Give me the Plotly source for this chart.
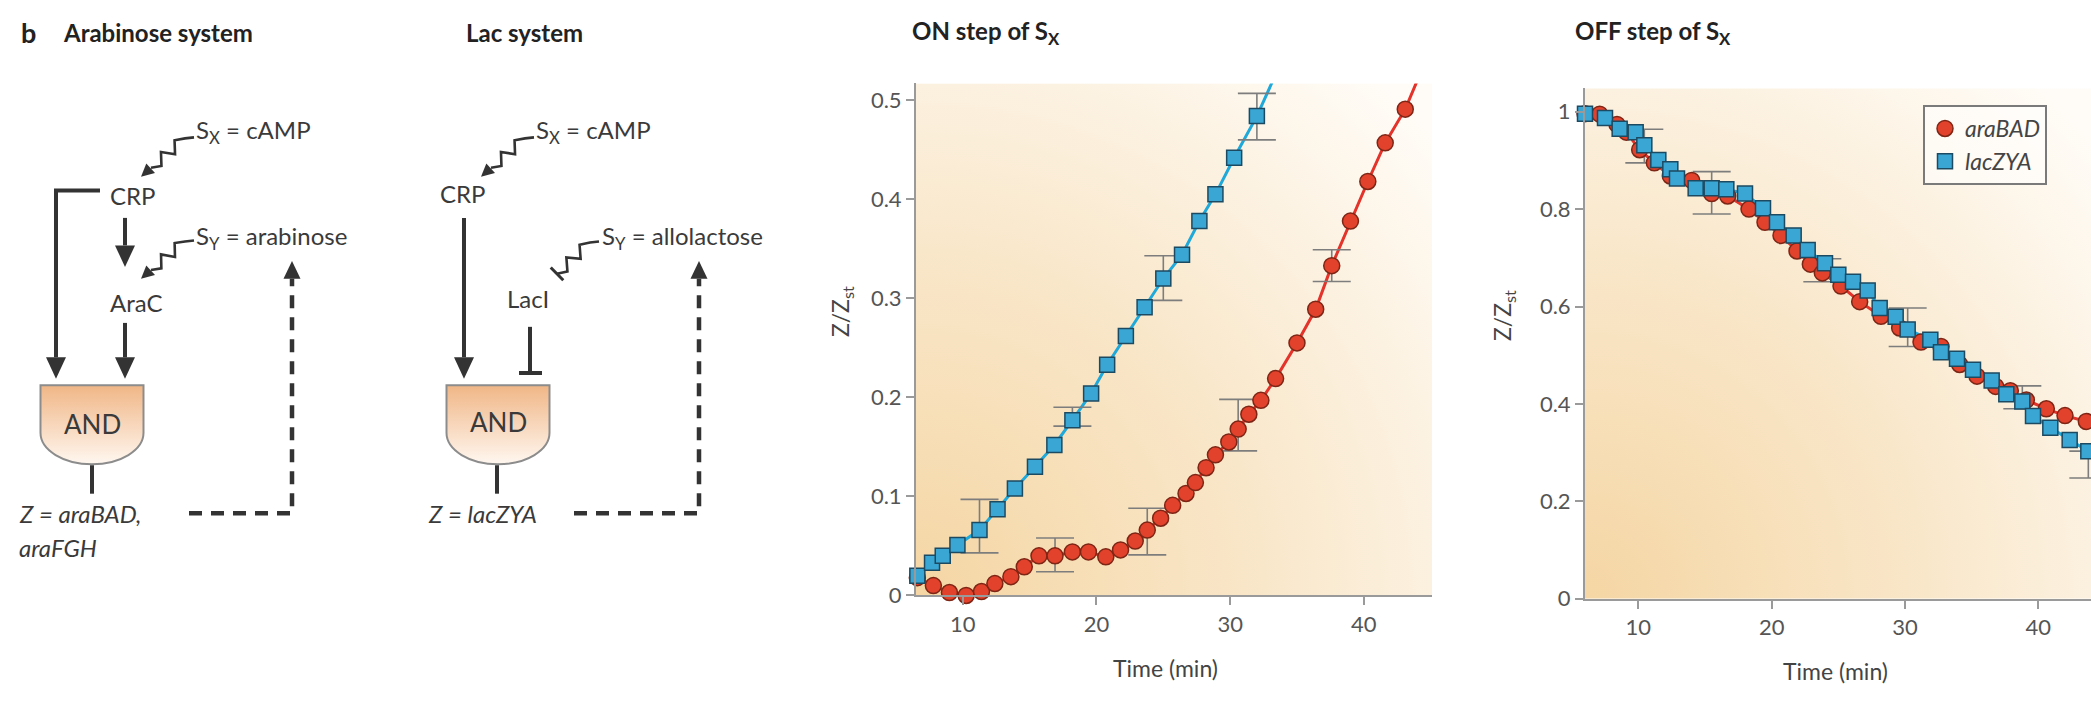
import base64
import plotly.graph_objects as go

W, H = 2091, 703

# ---------------- data ----------------
# ON step of S_X
on_ara_t = [6.6, 7.8, 9.0, 10.25, 11.4, 12.4, 13.6, 14.6, 15.7, 16.9, 18.2, 19.4, 20.7, 21.8, 22.9, 23.8,
            24.8, 25.7, 26.7, 27.4, 28.2, 28.9, 29.9, 30.6, 31.4, 32.3, 33.4, 35.0, 36.4, 37.6, 39.0, 40.3, 41.6, 43.1]
on_ara_v = [0.018, 0.010, 0.003, 0.0, 0.004, 0.012, 0.019, 0.029, 0.040, 0.040, 0.044, 0.044, 0.039, 0.046, 0.055, 0.066,
            0.078, 0.091, 0.103, 0.114, 0.129, 0.142, 0.155, 0.168, 0.183, 0.197, 0.219, 0.255, 0.289, 0.333, 0.378, 0.418, 0.457, 0.491]
on_ara_fit_end_t = [44.0]
on_ara_fit_end_v = [0.52]

on_lac_t = [6.6, 7.7, 8.5, 9.6, 11.25, 12.6, 13.9, 15.4, 16.85, 18.2, 19.6, 20.8, 22.2, 23.6, 25.0, 26.4, 27.7, 28.9, 30.3, 32.0]
on_lac_v = [0.020, 0.033, 0.040, 0.051, 0.066, 0.087, 0.108, 0.130, 0.152, 0.177, 0.204, 0.233, 0.262, 0.291, 0.320,
            0.344, 0.378, 0.405, 0.442, 0.484]
on_lac_fit_end_t = [33.2]
on_lac_fit_end_v = [0.52]

on_ara_err_t = [16.9, 23.8, 30.6, 37.6]
on_ara_err_v = [0.040, 0.066, 0.168, 0.333]
on_ara_err_up = [0.018, 0.022, 0.030, 0.016]
on_ara_err_dn = [0.016, 0.025, 0.022, 0.016]

on_lac_err_t = [11.25, 18.2, 25.0, 32.0]
on_lac_err_v = [0.066, 0.177, 0.320, 0.484]
on_lac_err_up = [0.031, 0.013, 0.023, 0.023]
on_lac_err_dn = [0.023, 0.006, 0.022, 0.024]

# OFF step of S_X
off_ara_t = [6.0, 7.1, 8.4, 9.1, 10.1, 11.2, 12.4, 14.0, 15.5, 16.7, 18.3, 19.5, 20.7, 21.9, 22.9, 23.8, 25.2, 26.6,
             28.2, 29.6, 31.2, 32.7, 34.1, 35.4, 36.8, 37.9, 39.1, 40.6, 42.0, 43.6]
off_ara_v = [0.996, 0.995, 0.974, 0.958, 0.922, 0.895, 0.868, 0.859, 0.832, 0.827, 0.800, 0.773, 0.746, 0.714, 0.687,
             0.669, 0.642, 0.610, 0.580, 0.556, 0.527, 0.518, 0.481, 0.457, 0.436, 0.427, 0.408, 0.390, 0.376, 0.364]

off_lac_t = [6.0, 7.5, 8.6, 9.8, 10.45, 11.5, 12.4, 12.9, 14.3, 15.5, 16.6, 18.0, 19.35, 20.4, 21.65, 22.7, 24.0, 25.0,
             26.1, 27.2, 28.1, 29.3, 30.2, 31.9, 32.7, 33.9, 35.1, 36.5, 37.6, 38.8, 39.6, 40.9, 42.35, 43.75]
off_lac_v = [0.996, 0.987, 0.965, 0.958, 0.931, 0.901, 0.882, 0.863, 0.843, 0.843, 0.841, 0.832, 0.802, 0.773, 0.746,
             0.716, 0.689, 0.665, 0.651, 0.633, 0.597, 0.579, 0.553, 0.532, 0.506, 0.493, 0.470, 0.448, 0.420, 0.405,
             0.375, 0.351, 0.326, 0.303]

off_ara_err_t = [15.5, 23.8]
off_ara_err_v = [0.832, 0.669]
off_ara_err_up = [0.045, 0.029]
off_ara_err_dn = [0.042, 0.018]

off_lac_err_t = [10.45, 30.2, 38.8, 43.75]
off_lac_err_v = [0.931, 0.553, 0.405, 0.303]
off_lac_err_up = [0.033, 0.044, 0.032, 0.0]
off_lac_err_dn = [0.036, 0.035, 0.015, 0.055]

on_yticks = [0, 0.1, 0.2, 0.3, 0.4, 0.5]
off_yticks = [0, 0.2, 0.4, 0.6, 0.8, 1]
xticks = [10, 20, 30, 40]

series_names = ["<i>araBAD</i>", "<i>lacZYA</i>"]

# ---------------- style ----------------
FONT = "Lato, Open Sans, sans-serif"
RED = "#E2412B"
RED_EDGE = "#7E2616"
RED_LINE = "#E3332A"
BLUE = "#3AA6D4"
BLUE_EDGE = "#1C4A62"
BLUE_LINE = "#1FA8DA"
ERR = "#7d7d7d"
DARK = "#333333"


def px(x):
    return x / W


def py(y):
    return 1 - y / H


fig = go.Figure()


def add_panel(xa, ya, ara_t, ara_v, lac_t, lac_v, ara_line, lac_line, errs, legend):
    (alt, alv), (llt, llv) = ara_line, lac_line
    fig.add_trace(go.Scatter(x=lac_t + llt, y=lac_v + llv, mode="lines", line=dict(color=BLUE_LINE, width=3),
                             showlegend=False, hoverinfo="skip", xaxis=xa, yaxis=ya))
    fig.add_trace(go.Scatter(x=ara_t + alt, y=ara_v + alv, mode="lines", line=dict(color=RED_LINE, width=3),
                             showlegend=False, hoverinfo="skip", xaxis=xa, yaxis=ya))
    for et, ev, eu, ed in errs:
        fig.add_trace(go.Scatter(x=et, y=ev, mode="markers", marker=dict(size=1, opacity=0),
                                 error_y=dict(type="data", symmetric=False, array=eu, arrayminus=ed,
                                              color=ERR, thickness=1.6, width=19),
                                 showlegend=False, hoverinfo="skip", cliponaxis=False, xaxis=xa, yaxis=ya))
    fig.add_trace(go.Scatter(x=ara_t, y=ara_v, mode="markers", name=series_names[0],
                             marker=dict(symbol="circle", size=16, color=RED, line=dict(color=RED_EDGE, width=1.5)),
                             showlegend=legend, cliponaxis=False, xaxis=xa, yaxis=ya))
    fig.add_trace(go.Scatter(x=lac_t, y=lac_v, mode="markers", name=series_names[1],
                             marker=dict(symbol="square", size=15, color=BLUE, line=dict(color=BLUE_EDGE, width=1.5)),
                             showlegend=legend, cliponaxis=False, xaxis=xa, yaxis=ya))


add_panel("x", "y", on_ara_t, on_ara_v, on_lac_t, on_lac_v,
          (on_ara_fit_end_t, on_ara_fit_end_v), (on_lac_fit_end_t, on_lac_fit_end_v),
          [(on_ara_err_t, on_ara_err_v, on_ara_err_up, on_ara_err_dn),
           (on_lac_err_t, on_lac_err_v, on_lac_err_up, on_lac_err_dn)], False)
add_panel("x2", "y2", off_ara_t, off_ara_v, off_lac_t, off_lac_v,
          ([], []), ([], []),
          [(off_ara_err_t, off_ara_err_v, off_ara_err_up, off_ara_err_dn),
           (off_lac_err_t, off_lac_err_v, off_lac_err_up, off_lac_err_dn)], True)

axis_common = dict(showgrid=False, zeroline=False, showline=True, linecolor="#9a9a9a", linewidth=2,
                   ticks="outside", ticklen=8, tickwidth=1.5, tickcolor="#9a9a9a",
                   tickfont=dict(family=FONT, size=22, color="#555555"))

# ---------------- background gradient & AND gates (SVG images) ----------------
def svg_uri(svg):
    return "data:image/svg+xml;base64," + base64.b64encode(svg.encode()).decode()


bg_svg = ("<svg xmlns='http://www.w3.org/2000/svg' width='100' height='100' viewBox='0 0 100 100' "
          "preserveAspectRatio='none'><defs><radialGradient id='r' cx='0' cy='1' r='1.35'>"
          "<stop offset='0' stop-color='#F5D6A4'/><stop offset='0.5' stop-color='#F9E7CA'/>"
          "<stop offset='1' stop-color='#FFFCF7'/></radialGradient></defs>"
          "<rect width='100' height='100' fill='url(#r)'/></svg>")
and_svg = ("<svg xmlns='http://www.w3.org/2000/svg' width='106' height='84' viewBox='0 0 106 84' "
           "preserveAspectRatio='none'><defs><linearGradient id='g' x1='0' y1='0' x2='0' y2='1'>"
           "<stop offset='0' stop-color='#F0B686'/><stop offset='1' stop-color='#FFF7F0'/></linearGradient></defs>"
           "<path d='M1.5,1.5 H104.5 V50 A51.5,32 0 0 1 1.5,50 Z' fill='url(#g)' stroke='#8c8c8c' stroke-width='2'/>"
           "</svg>")

images = [
    dict(source=svg_uri(bg_svg), xref="paper", yref="paper", x=px(916), y=py(85), sizex=(1432 - 916) / W,
         sizey=(606.7 - 85) / H, xanchor="left", yanchor="top", sizing="stretch", layer="below"),
    dict(source=svg_uri(bg_svg), xref="paper", yref="paper", x=px(1585), y=py(90), sizex=(W - 1585) / W,
         sizey=(610 - 90) / H, xanchor="left", yanchor="top", sizing="stretch", layer="below"),
    dict(source=svg_uri(and_svg), xref="paper", yref="paper", x=px(39), y=py(391), sizex=106 / W, sizey=84 / H,
         xanchor="left", yanchor="top", sizing="stretch", layer="above"),
    dict(source=svg_uri(and_svg), xref="paper", yref="paper", x=px(445), y=py(391), sizex=106 / W, sizey=84 / H,
         xanchor="left", yanchor="top", sizing="stretch", layer="above"),
]

# ---------------- diagram shapes ----------------
shapes = []
annotations = []


def path_of(points, close=False):
    p = "M " + " L ".join(f"{px(x):.5f},{py(y):.5f}" for x, y in points)
    return p + (" Z" if close else "")


def line(points, width=4, dash=None, color=DARK):
    ln = dict(color=color, width=width)
    if dash:
        ln["dash"] = dash
    shapes.append(dict(type="path", xref="paper", yref="paper", path=path_of(points), line=ln))


def head(tip, frm, length=22, half=10):
    dx, dy = tip[0] - frm[0], tip[1] - frm[1]
    L = (dx * dx + dy * dy) ** 0.5
    ux, uy = dx / L, dy / L
    bx, by = tip[0] - ux * length, tip[1] - uy * length
    pts = [tip, (bx - uy * half, by + ux * half), (bx + uy * half, by - ux * half)]
    shapes.append(dict(type="path", xref="paper", yref="paper", path=path_of(pts, close=True),
                       fillcolor=DARK, line=dict(width=0)))
    return bx, by


def arrow(tip, tail, width=4, length=22, half=10):
    bx, by = head(tip, tail, length, half)
    line([tail, (bx, by)], width=width)


def squiggle(start, end, n=5, amp=5.5):
    (x0, y0), (x1, y1) = start, end
    dx, dy = x1 - x0, y1 - y0
    L = (dx * dx + dy * dy) ** 0.5
    nx, ny = -dy / L, dx / L
    pts = [(x0 + 9, y0 - 1), (x0, y0)]
    for i in range(1, n):
        f = i / n
        s = amp if i % 2 else -amp
        pts.append((x0 + dx * f + nx * s, y0 + dy * f + ny * s))
    pts.append((x1, y1))
    line(pts, width=2.6)
    return dx / L, dy / L


# Arabinose system
line([(100, 194), (56, 194), (56, 300)])
arrow((56, 386), (56, 290))
arrow((125, 272), (125, 222))
arrow((125, 386), (125, 329))
squiggle((185, 141), (151, 171))
head((141, 180), (151, 171), length=13, half=6.5)
squiggle((185, 246), (151, 275))
head((141, 284), (151, 275), length=13, half=6.5)
line([(92, 474), (92, 503)])
line([(189, 523), (292, 523), (292, 284)], width=4.5, dash="13px,9px")
head((292, 266), (292, 290), length=18, half=8.5)

# Lac system
arrow((464, 386), (464, 222))
squiggle((525, 141), (491, 171))
head((481, 180), (491, 171), length=13, half=6.5)
ux, uy = squiggle((590, 247), (557, 279))
line([(557 - uy * 9, 279 + ux * 9), (557 + uy * 9, 279 - ux * 9)], width=3)
line([(530, 333), (530, 380)])
line([(519, 380), (542, 380)], width=4)
line([(497, 474), (497, 503)])
line([(574, 523), (699, 523), (699, 284)], width=4.5, dash="13px,9px")
head((699, 266), (699, 290), length=18, half=8.5)


def txt(x, y, text, size=24, bold=False, anchor="left", color="#3a3a3a", angle=0):
    t = f"<b>{text}</b>" if bold else text
    annotations.append(dict(xref="paper", yref="paper", x=px(x), y=py(y), text=t, showarrow=False,
                            xanchor=anchor, yanchor="middle", textangle=angle,
                            font=dict(family=FONT, size=size, color=color)))


txt(19, 33, "b", size=27, bold=True, color="#222")
txt(61, 33, "Arabinose system", size=24, bold=True, color="#222")
txt(464, 33, "Lac system", size=24, bold=True, color="#222")
txt(910, 33, "ON step of S<sub>X</sub>", size=24, bold=True, color="#222")
txt(1573, 33, "OFF step of S<sub>X</sub>", size=24, bold=True, color="#222")

txt(194, 134, "S<sub>X</sub> = cAMP")
txt(108, 199, "CRP")
txt(194, 242, "S<sub>Y</sub> = arabinose")
txt(108, 308, "AraC")
txt(92, 432, "AND", size=26, anchor="center")
txt(17, 523, "<i>Z = araBAD,</i>")
txt(17, 558, "<i>araFGH</i>")

txt(534, 134, "S<sub>X</sub> = cAMP")
txt(438, 197, "CRP")
txt(600, 242, "S<sub>Y</sub> = allolactose")
txt(505, 304, "LacI")
txt(498, 430, "AND", size=26, anchor="center")
txt(426, 523, "<i>Z = lacZYA</i>")

# axis titles
txt(841, 318, "Z/Z<sub>st</sub>", size=23, anchor="center", color="#444", angle=-90)
txt(1503, 322, "Z/Z<sub>st</sub>", size=23, anchor="center", color="#444", angle=-90)
txt(1165, 681, "Time (min)", size=23, anchor="center", color="#444")
txt(1835, 684, "Time (min)", size=23, anchor="center", color="#444")

fig.update_layout(
    width=W, height=H, margin=dict(l=0, r=0, t=0, b=0),
    paper_bgcolor="white", plot_bgcolor="rgba(0,0,0,0)",
    font=dict(family=FONT, color="#333"),
    xaxis=dict(domain=[px(916), px(1432)], range=[6.5, 45.1], tickvals=xticks, anchor="y", **axis_common),
    yaxis=dict(domain=[py(606.7), py(85)], range=[0, 0.517], tickvals=on_yticks, anchor="x", **axis_common),
    xaxis2=dict(domain=[px(1585), 1.0], range=[6.0, 43.95], tickvals=xticks, anchor="y2", **axis_common),
    yaxis2=dict(domain=[py(610), py(90)], range=[0, 1.048], tickvals=off_yticks, anchor="x2", **axis_common),
    legend=dict(x=px(1923), y=py(107), xanchor="left", yanchor="top", bgcolor="rgba(255,255,255,0.55)",
                bordercolor="#7a7a7a", borderwidth=2, font=dict(family=FONT, size=23, color="#444"),
                tracegroupgap=0, itemwidth=30),
    images=images, shapes=shapes, annotations=annotations, showlegend=True,
)

fig.write_html("out.html")
